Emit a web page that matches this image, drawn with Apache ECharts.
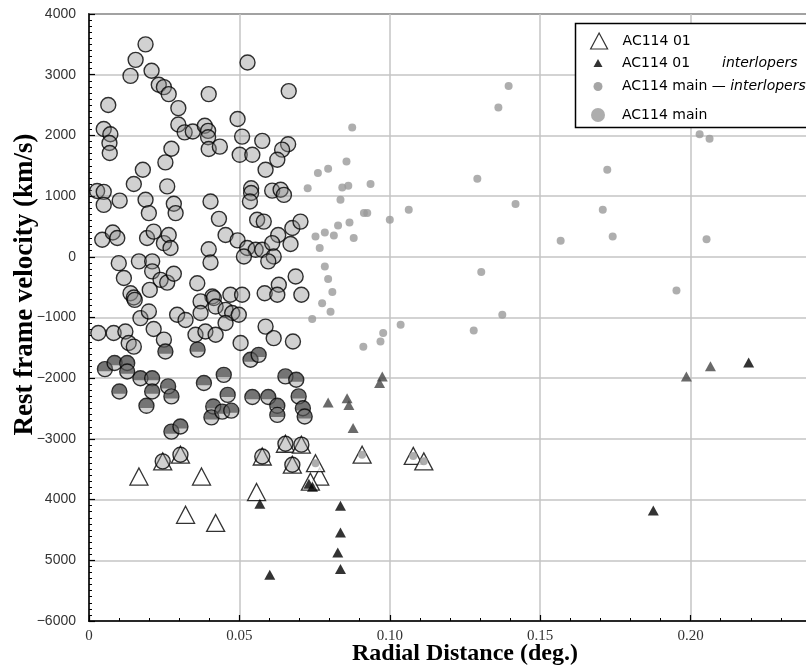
<!DOCTYPE html>
<html>
<head>
<meta charset="utf-8">
<title>AC114 – rest frame velocity vs radial distance</title>
<script src="https://cdn.jsdelivr.net/npm/echarts@6/dist/echarts.min.js"></script>
<style>
  html, body { margin: 0; padding: 0; background: #fff; }
  #chart { width: 806px; height: 669px; }
</style>
</head>
<body>
<div id="chart"></div>
<script>
// [radial distance (deg), rest frame velocity (km/s)]

// AC114 main, plain circles
const mainCircles = [
  [0.0188, 3500], [0.0155, 3245], [0.0138, 2980], [0.0208, 3065], [0.0232, 2835], [0.0249, 2795], [0.0265, 2680],
  [0.0527, 3200], [0.0398, 2680], [0.0664, 2730], [0.0064, 2500], [0.0297, 2450], [0.0049, 2105], [0.0071, 2020],
  [0.0068, 1875], [0.0069, 1710], [0.0297, 2180], [0.0318, 2050], [0.0345, 2065], [0.0385, 2160], [0.0396, 2075],
  [0.0396, 1970], [0.0398, 1775], [0.0435, 1815], [0.0494, 2270], [0.0509, 1980], [0.0576, 1910], [0.0501, 1680],
  [0.0543, 1680], [0.0274, 1780], [0.0254, 1555], [0.0179, 1435], [0.0149, 1200], [0.0260, 1160], [0.0662, 1855],
  [0.0642, 1765], [0.0626, 1600], [0.0587, 1435], [0.0027, 1085], [0.0049, 1070], [0.0049, 855], [0.0102, 925],
  [0.0188, 940], [0.0199, 720], [0.0282, 875], [0.0288, 720], [0.0404, 910], [0.0539, 1130], [0.0539, 1050],
  [0.0535, 910], [0.0609, 1090], [0.0637, 1105], [0.0648, 1020], [0.0432, 625], [0.0454, 360], [0.0494, 270],
  [0.0559, 610], [0.0581, 580], [0.0676, 475], [0.0703, 580], [0.0629, 360], [0.0670, 210], [0.0526, 145],
  [0.0554, 115], [0.0576, 115], [0.0609, 225], [0.0614, 5], [0.0596, -75], [0.0515, 5], [0.0044, 280],
  [0.0079, 400], [0.0094, 310], [0.0193, 310], [0.0215, 415], [0.0249, 225], [0.0265, 360], [0.0271, 145],
  [0.0398, 125], [0.0404, -95], [0.0099, -105], [0.0166, -75], [0.0210, -75], [0.0210, -240], [0.0116, -350],
  [0.0238, -380], [0.0260, -425], [0.0282, -280], [0.0360, -435], [0.0202, -545], [0.0138, -600], [0.0149, -670],
  [0.0631, -460], [0.0687, -325], [0.0584, -600], [0.0626, -625], [0.0706, -625], [0.0470, -625], [0.0509, -625],
  [0.0410, -655], [0.0152, -710], [0.0371, -735], [0.0415, -680], [0.0171, -1010], [0.0199, -900], [0.0293, -955],
  [0.0321, -1040], [0.0371, -925], [0.0421, -820], [0.0454, -875], [0.0476, -925], [0.0498, -955], [0.0454, -1090],
  [0.0031, -1255], [0.0082, -1255], [0.0121, -1230], [0.0215, -1190], [0.0249, -1365], [0.0132, -1420], [0.0149, -1480],
  [0.0354, -1285], [0.0387, -1230], [0.0421, -1285], [0.0504, -1420], [0.0587, -1150], [0.0614, -1340], [0.0678, -1395]
]

// AC114 main, drawn darker (overlapping)
const mainDark = [
  [0.0254, -1560], [0.0361, -1530], [0.0537, -1695], [0.0564, -1615], [0.0053, -1850], [0.0085, -1750], [0.0127, -1750],
  [0.0127, -1890], [0.0171, -2000], [0.0210, -2000], [0.0210, -2220], [0.0101, -2220], [0.0263, -2135], [0.0274, -2300],
  [0.0191, -2455], [0.0382, -2080], [0.0448, -1945], [0.0461, -2275], [0.0413, -2465], [0.0407, -2645], [0.0443, -2550],
  [0.0473, -2535], [0.0543, -2310], [0.0596, -2310], [0.0626, -2455], [0.0626, -2605], [0.0653, -1970], [0.0689, -2025],
  [0.0697, -2300], [0.0711, -2495], [0.0717, -2630], [0.0274, -2880], [0.0304, -2795]
]

// AC114 01 members that are also in AC114 main
const ac01InMain = [
  [0.0245, -3370], [0.0304, -3260], [0.0576, -3290], [0.0653, -3080], [0.0706, -3095], [0.0676, -3425]
]

// AC114 01 only
const ac01Only = [
  [0.0166, -3620], [0.0374, -3620], [0.0557, -3875], [0.0321, -4250], [0.0421, -4385], [0.0767, -3620], [0.0736, -3705]
]

// AC114 01 members among the main interlopers
const ac01InMainInterlopers = [
  [0.0753, -3400], [0.0908, -3260], [0.1078, -3280], [0.1113, -3370]
]

// AC114 01 interlopers
const ac01Interlopers = [
  [0.0568, -4070], [0.0601, -5240], [0.0731, -3740], [0.0743, -3790], [0.0836, -4100],
  [0.0836, -4540], [0.0827, -4870], [0.0836, -5145], [0.1876, -4180], [0.2193, -1740]
]
const ac01InterlopersGrey = [
  [0.0795, -2400], [0.0858, -2330], [0.0864, -2440], [0.0878, -2820],
  [0.0975, -1970], [0.0966, -2080], [0.1986, -1970], [0.2066, -1805]
]

// AC114 main - interlopers
const mainInterlopers = [
  [0.1395, 2815], [0.1361, 2460], [0.0875, 2130], [0.0856, 1570], [0.0761, 1380], [0.0795, 1450], [0.0727, 1130],
  [0.0842, 1140], [0.0862, 1170], [0.0936, 1200], [0.1291, 1285], [0.0836, 940], [0.0914, 720], [0.0925, 720],
  [0.1063, 775], [0.1000, 610], [0.1418, 870], [0.0828, 515], [0.0866, 565], [0.0753, 335], [0.0784, 400],
  [0.0814, 350], [0.0880, 310], [0.0767, 145], [0.1568, 265], [0.0784, -160], [0.0795, -365], [0.0809, -580],
  [0.0775, -765], [0.0803, -905], [0.0742, -1025], [0.1304, -250], [0.1374, -955], [0.1279, -1215], [0.1036, -1120],
  [0.0978, -1255], [0.0969, -1395], [0.0912, -1480], [0.2030, 2020], [0.2063, 1945], [0.1723, 1435], [0.1708, 775],
  [0.1741, 335], [0.2053, 290], [0.1953, -555]
]

const xTickLabels = ['0', '0.05', '0.10', '0.15', '0.20', '0.25']
const yTickLabels = ['\u22126000', '5000', '4000', '\u22123000', '\u22122000', '\u22121000', '0', '1000', '2000', '3000', '4000']

const chartDom = document.getElementById('chart')
const chart = echarts.init(chartDom, null, { renderer: 'canvas' })

const legendFont = { color: '#000', fontFamily: 'DejaVu Sans', fontSize: 14, lineHeight: 18 }
const legendBase = {
  orient: 'horizontal',
  padding: 0,
  selectedMode: false,
  symbolKeepAspect: true,
}

// icons centred at x≈598, text starting at x≈622
const option = {
  animation: false,
  backgroundColor: '#fff',
  grid: {
    left: 89,
    right: -35,
    top: 14,
    bottom: 48,
    show: true,
    borderColor: '#000',
    borderWidth: 1.5,
    outerBoundsMode: 'none',
  },
  graphic: [
    {
      type: 'rect',
      z: 3,
      shape: { x: 575.5, y: 23.5, width: 240, height: 104 },
      style: { fill: '#fff', stroke: '#000', lineWidth: 1.5 },
    },
  ],
  legend: [
    {
      ...legendBase,
      left: 590,
      top: 32,
      itemWidth: 17,
      itemHeight: 16,
      data: ['AC114 01'],
      itemStyle: { color: '#fff', borderColor: '#000', borderWidth: 1.2 },
      textStyle: { ...legendFont, padding: [0, 0, 0, 10] },
    },
    {
      ...legendBase,
      left: 593.5,
      top: 54,
      itemWidth: 9,
      itemHeight: 8,
      data: ['AC114 01 interlopers'],
      itemStyle: { color: '#000', borderWidth: 0 },
      formatter: () => '{n|AC114 01}{i|interlopers}',
      textStyle: {
        ...legendFont,
        padding: [0, 0, 0, 14.5],
        rich: {
          n: { ...legendFont, width: 100 },
          i: { ...legendFont, fontStyle: 'italic' },
        },
      },
    },
    {
      ...legendBase,
      left: 593.5,
      top: 77.5,
      itemWidth: 9,
      itemHeight: 9,
      data: ['AC114 main \u2014 interlopers'],
      itemStyle: { color: '#8f8f8f', borderWidth: 0 },
      formatter: () => '{n|AC114 main \u2014 }{i|interlopers}',
      textStyle: {
        ...legendFont,
        padding: [0, 0, 0, 14.5],
        rich: {
          n: { ...legendFont },
          i: { ...legendFont, fontStyle: 'italic' },
        },
      },
    },
    {
      ...legendBase,
      left: 591,
      top: 106,
      itemWidth: 14,
      itemHeight: 14,
      data: [{ name: 'AC114 main', icon: 'circle' }],
      itemStyle: { color: '#999', borderWidth: 0 },
      textStyle: { ...legendFont, padding: [0, 0, 0, 12] },
    },
  ],
  xAxis: {
    type: 'value',
    min: 0,
    max: 0.25,
    interval: 0.05,
    name: 'Radial Distance (deg.)',
    nameLocation: 'middle',
    nameGap: 21,
    nameMoveOverlap: false,
    nameTextStyle: { fontFamily: 'Liberation Serif', fontWeight: 'bold', fontSize: 24, color: '#000' },
    axisLine: { onZero: false, lineStyle: { color: '#000', width: 1.5 } },
    axisTick: { inside: true, length: 6, lineStyle: { color: '#000', width: 1.2 } },
    minorTick: { show: true, splitNumber: 5, length: 3, lineStyle: { color: '#000', width: 1 } },
    splitLine: { show: true, lineStyle: { color: '#c4c4c4', width: 1.5 } },
    axisLabel: {
      margin: 8,
      fontFamily: 'Liberation Sans Narrow',
      fontSize: 15,
      color: '#333',
      formatter: (v) => xTickLabels[Math.round(v / 0.05)],
    },
  },
  yAxis: {
    type: 'value',
    min: -6000,
    max: 4000,
    interval: 1000,
    name: 'Rest frame velocity (km/s)',
    nameLocation: 'middle',
    nameGap: 50,
    nameMoveOverlap: false,
    nameTextStyle: {
      fontFamily: 'Liberation Serif',
      fontWeight: 'bold',
      fontSize: 27,
      color: '#000',
      padding: [0, 0, 0, 66],
    },
    axisLine: { onZero: false, lineStyle: { color: '#000', width: 1.5 } },
    axisTick: { inside: true, length: 6, lineStyle: { color: '#000', width: 1.2 } },
    minorTick: { show: true, splitNumber: 10, length: 3, lineStyle: { color: '#000', width: 1 } },
    splitLine: { show: true, lineStyle: { color: '#c4c4c4', width: 1.5 } },
    axisLabel: {
      margin: 13,
      fontFamily: 'Liberation Sans',
      fontSize: 14,
      color: '#333',
      formatter: (v) => yTickLabels[Math.round((v + 6000) / 1000)],
    },
  },
  series: [
    {
      name: 'AC114 01',
      type: 'scatter',
      symbol: 'triangle',
      symbolSize: [18, 17],
      itemStyle: { color: '#fff', borderColor: '#000', borderWidth: 1.3 },
      data: ac01Only.concat(ac01InMain, ac01InMainInterlopers),
    },
    {
      name: 'AC114 main \u2014 interlopers',
      type: 'scatter',
      symbol: 'circle',
      symbolSize: 8,
      itemStyle: { color: '#9a9a9a' },
      data: mainInterlopers.concat(ac01InMainInterlopers),
    },
    {
      // dark upper part under the overlapping circles
      name: 'main-dark',
      type: 'scatter',
      symbol: 'path://M0.46,13 A10,10 0 1 1 19.54,13 Z',
      symbolSize: [14, 9.1],
      symbolOffset: [0, -2.4],
      itemStyle: { color: '#3d3d3d' },
      data: mainDark,
    },
    {
      name: 'AC114 main',
      type: 'scatter',
      symbol: 'circle',
      symbolSize: 15,
      itemStyle: { color: 'rgba(140,140,140,0.5)', borderColor: '#000', borderWidth: 1.4 },
      data: mainCircles.concat(mainDark, ac01InMain),
    },
    {
      name: 'AC114 01 interlopers',
      type: 'scatter',
      symbol: 'triangle',
      symbolSize: [11, 10],
      itemStyle: { color: '#000' },
      data: ac01Interlopers,
    },
    {
      name: 'interlopers-grey',
      type: 'scatter',
      symbol: 'triangle',
      symbolSize: [11, 10],
      itemStyle: { color: '#454545' },
      data: ac01InterlopersGrey,
    },
  ],
}

chart.setOption(option)
</script>
</body>
</html>
